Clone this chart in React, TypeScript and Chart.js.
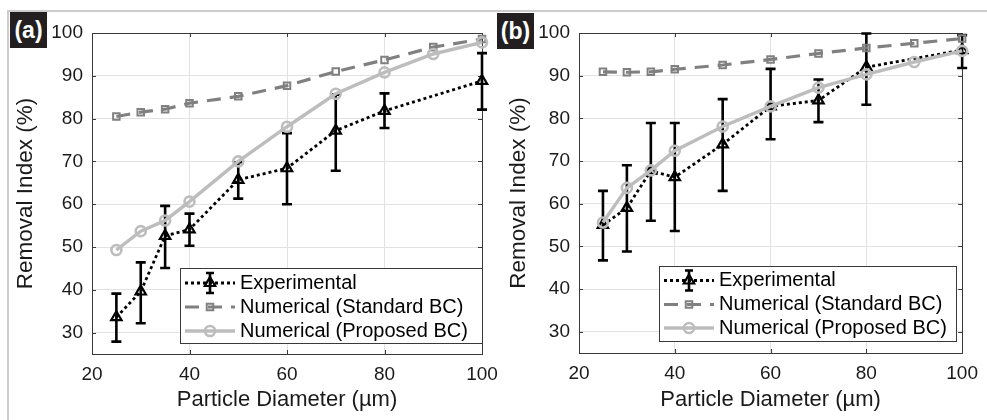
import React, { useEffect, useRef } from 'react';
import { Chart, registerables } from 'chart.js';

Chart.register(...registerables);

// ---------- data ----------
const diameters = [25, 30, 35, 40, 50, 60, 70, 80, 90, 100];
const expDiameters = [25, 30, 35, 40, 50, 60, 70, 80, 100];
const xTickValues = [20, 40, 60, 80, 100];
const yTickValues = [30, 40, 50, 60, 70, 80, 90, 100];
const seriesLabels = ['Experimental', 'Numerical (Standard BC)', 'Numerical (Proposed BC)'];
const xTitle = 'Particle Diameter (µm)';
const yTitle = 'Removal Index (%)';

// Panel (a)
const expMeanA = [33.6, 39.6, 52.6, 54.1, 65.7, 68.4, 77.2, 81.8, 88.8];
const expLowA = [27.9, 32.2, 45.1, 50.3, 61.3, 60.0, 67.8, 77.8, 82.1];
const expHighA = [39.1, 46.4, 59.6, 57.8, 69.8, 76.6, 85.6, 85.9, 95.3];
const standardA = [80.5, 81.5, 82.2, 83.6, 85.2, 87.7, 91.0, 93.7, 96.7, 98.6];
const proposedA = [49.3, 53.7, 56.2, 60.6, 70.0, 78.1, 85.8, 90.8, 95.1, 97.8];

// Panel (b)
const expMeanB = [55.0, 59.0, 67.7, 66.2, 73.9, 82.8, 84.2, 92.0, 96.0];
const expLowB = [46.7, 48.8, 56.0, 53.6, 63.0, 75.1, 79.1, 83.2, 91.8];
const expHighB = [63.0, 69.0, 78.9, 78.9, 84.5, 91.6, 89.1, 99.9, 99.5];
const standardB = [90.9, 90.8, 90.9, 91.5, 92.5, 93.8, 95.2, 96.5, 97.6, 98.7];
const proposedB = [55.6, 63.7, 67.8, 72.4, 78.1, 82.8, 87.2, 90.3, 93.2, 95.8];

// ---------- styles ----------
const FONT = "'Liberation Sans', Arial, Helvetica, sans-serif";
const TEXT = '#1a1a1a';
const GRID = '#e2e2e2';
const AXIS = '#3a3a3a';
const EXP_COLOR = '#000000';
const STD_COLOR = '#808080';
const PROP_COLOR = '#bdbdbd';

type Panel = {
  exp: number[];
  low: number[];
  high: number[];
  std: number[];
  prop: number[];
  yAxisWidth: number;
  xAxisHeight: number;
  padRight: number;
  padTop: number;
  yTitlePad: number;
  legend: { right: number; bottom: number; w: number; h: number; rows: number[] };
};

function drawMarker(ctx: CanvasRenderingContext2D, style: string, x: number, y: number, r: number) {
  ctx.beginPath();
  if (style === 'triangle') {
    for (let k = 0; k < 3; k++) {
      const a = (k * 2 * Math.PI) / 3;
      const px = x + Math.sin(a) * r;
      const py = y - Math.cos(a) * r;
      if (k === 0) ctx.moveTo(px, py);
      else ctx.lineTo(px, py);
    }
    ctx.closePath();
  } else if (style === 'rect') {
    const s = Math.SQRT1_2 * r;
    ctx.rect(x - s, y - s, 2 * s, 2 * s);
  } else {
    ctx.arc(x, y, r, 0, Math.PI * 2);
  }
  ctx.stroke();
}

function makeDecor(p: Panel) {
  return {
    id: 'panelDecor',
    beforeDatasetsDraw(chart: any) {
      const { ctx, chartArea: a } = chart;
      const x = chart.scales.x;
      const y = chart.scales.y;
      ctx.save();
      // axes box + inward ticks
      ctx.strokeStyle = AXIS;
      ctx.lineWidth = 1;
      ctx.setLineDash([]);
      ctx.beginPath();
      for (const v of xTickValues) {
        const px = Math.round(x.getPixelForValue(v)) + 0.5;
        ctx.moveTo(px, a.bottom);
        ctx.lineTo(px, a.bottom - 4);
        ctx.moveTo(px, a.top);
        ctx.lineTo(px, a.top + 4);
      }
      for (const v of yTickValues) {
        const py = Math.round(y.getPixelForValue(v)) + 0.5;
        ctx.moveTo(a.left, py);
        ctx.lineTo(a.left + 4, py);
        ctx.moveTo(a.right, py);
        ctx.lineTo(a.right - 4, py);
      }
      ctx.stroke();
      ctx.strokeRect(Math.round(a.left) + 0.5, Math.round(a.top) + 0.5, Math.round(a.right - a.left), Math.round(a.bottom - a.top));
      // error bars
      ctx.strokeStyle = EXP_COLOR;
      ctx.lineWidth = 2.6;
      ctx.beginPath();
      expDiameters.forEach((d, i) => {
        const px = x.getPixelForValue(d);
        const lo = y.getPixelForValue(p.low[i]);
        const hi = y.getPixelForValue(p.high[i]);
        ctx.moveTo(px, lo);
        ctx.lineTo(px, hi);
        ctx.moveTo(px - 5, lo);
        ctx.lineTo(px + 5, lo);
        ctx.moveTo(px - 5, hi);
        ctx.lineTo(px + 5, hi);
      });
      ctx.stroke();
      ctx.restore();
    },
    afterDraw(chart: any) {
      const { ctx, chartArea: a } = chart;
      const lg = p.legend;
      const bx = Math.round(a.right - lg.right - lg.w);
      const by = Math.round(a.bottom - lg.bottom - lg.h);
      ctx.save();
      ctx.fillStyle = '#ffffff';
      ctx.fillRect(bx, by, lg.w, lg.h);
      ctx.strokeStyle = AXIS;
      ctx.lineWidth = 1;
      ctx.setLineDash([]);
      ctx.strokeRect(bx + 0.5, by + 0.5, lg.w, lg.h);
      const ds = chart.data.datasets;
      ds.forEach((d: any, i: number) => {
        const cy = by + lg.rows[i];
        const x0 = bx + 5;
        const x1 = bx + 55;
        const mx = bx + 30;
        ctx.strokeStyle = d.borderColor;
        ctx.lineWidth = d.borderWidth;
        ctx.setLineDash(d.borderDash || []);
        ctx.beginPath();
        ctx.moveTo(x0, cy);
        ctx.lineTo(x1, cy);
        ctx.stroke();
        ctx.setLineDash([]);
        if (d.pointStyle === 'triangle') {
          ctx.lineWidth = 2.6;
          ctx.beginPath();
          ctx.moveTo(mx, cy - 10);
          ctx.lineTo(mx, cy + 10);
          ctx.moveTo(mx - 4, cy - 10);
          ctx.lineTo(mx + 4, cy - 10);
          ctx.moveTo(mx - 4, cy + 10);
          ctx.lineTo(mx + 4, cy + 10);
          ctx.stroke();
        }
        ctx.strokeStyle = d.pointBorderColor;
        ctx.lineWidth = d.pointBorderWidth;
        drawMarker(ctx, d.pointStyle, mx, cy, d.pointRadius);
        ctx.fillStyle = '#000';
        ctx.font = `20px ${FONT}`;
        ctx.textBaseline = 'middle';
        ctx.textAlign = 'left';
        ctx.fillText(d.label, bx + 60, cy);
      });
      ctx.restore();
    },
  };
}

function makeConfig(p: Panel): any {
  const pts = (xs: number[], ys: number[]) => xs.map((x, i) => ({ x, y: ys[i] }));
  return {
    type: 'line',
    data: {
      datasets: [
        {
          label: seriesLabels[0],
          data: pts(expDiameters, p.exp),
          borderColor: EXP_COLOR,
          borderWidth: 2.8,
          borderDash: [3, 3],
          pointStyle: 'triangle',
          pointRadius: 6,
          pointBorderWidth: 2.2,
          pointBorderColor: EXP_COLOR,
          pointBackgroundColor: 'rgba(0,0,0,0)',
          order: 2,
          clip: false,
          tension: 0,
        },
        {
          label: seriesLabels[1],
          data: pts(diameters, p.std),
          borderColor: STD_COLOR,
          borderWidth: 3.2,
          borderDash: [14, 9],
          pointStyle: 'rect',
          pointRadius: 4.6,
          pointBorderWidth: 2,
          pointBorderColor: STD_COLOR,
          pointBackgroundColor: 'rgba(0,0,0,0)',
          order: 1,
          clip: false,
          tension: 0,
        },
        {
          label: seriesLabels[2],
          data: pts(diameters, p.prop),
          borderColor: PROP_COLOR,
          borderWidth: 3.4,
          pointStyle: 'circle',
          pointRadius: 5,
          pointBorderWidth: 2.6,
          pointBorderColor: PROP_COLOR,
          pointBackgroundColor: 'rgba(0,0,0,0)',
          order: 0,
          clip: false,
          tension: 0,
        },
      ],
    },
    options: {
      animation: false,
      responsive: false,
      maintainAspectRatio: false,
      events: [],
      layout: { padding: { left: 0, top: p.padTop, right: p.padRight, bottom: 0 } },
      plugins: { legend: { display: false }, tooltip: { enabled: false } },
      scales: {
        x: {
          type: 'linear',
          min: 20,
          max: 100,
          afterBuildTicks: (s: any) => {
            s.ticks = xTickValues.map((v) => ({ value: v }));
          },
          afterFit: (s: any) => {
            s.height = p.xAxisHeight;
          },
          grid: { color: GRID, lineWidth: 1, drawTicks: false },
          border: { display: false },
          ticks: { color: TEXT, font: { family: FONT, size: 19 }, padding: 9, maxRotation: 0, autoSkip: false },
          title: {
            display: true,
            text: xTitle,
            color: TEXT,
            font: { family: FONT, size: 22 },
            padding: { top: 0, bottom: 7 },
          },
        },
        y: {
          type: 'linear',
          min: 25,
          max: 100,
          afterBuildTicks: (s: any) => {
            s.ticks = yTickValues.map((v) => ({ value: v }));
          },
          afterFit: (s: any) => {
            s.width = p.yAxisWidth;
          },
          grid: { color: GRID, lineWidth: 1, drawTicks: false },
          border: { display: false },
          ticks: { color: TEXT, font: { family: FONT, size: 19 }, padding: 9, autoSkip: false },
          title: {
            display: true,
            text: yTitle,
            color: TEXT,
            font: { family: FONT, size: 22.5 },
            padding: { top: p.yTitlePad, bottom: 0 },
          },
        },
      },
    },
    plugins: [makeDecor(p)],
  };
}

const panelA: Panel = {
  exp: expMeanA,
  low: expLowA,
  high: expHighA,
  std: standardA,
  prop: proposedA,
  yAxisWidth: 92,
  xAxisHeight: 66,
  padRight: 28,
  padTop: 33,
  yTitlePad: 12,
  legend: { right: 0, bottom: 11, w: 302, h: 75, rows: [15, 39, 63] },
};

const panelB: Panel = {
  exp: expMeanB,
  low: expLowB,
  high: expHighB,
  std: standardB,
  prop: proposedB,
  yAxisWidth: 89,
  xAxisHeight: 67,
  padRight: 17,
  padTop: 33,
  yTitlePad: 15,
  legend: { right: 6, bottom: 12, w: 297, h: 75, rows: [14.5, 38.5, 62] },
};

function PanelChart({ panel, left, width }: { panel: Panel; left: number; width: number }) {
  const ref = useRef<HTMLCanvasElement | null>(null);
  useEffect(() => {
    if (!ref.current) return;
    const chart = new Chart(ref.current, makeConfig(panel));
    return () => chart.destroy();
  }, [panel]);
  return (
    <canvas
      ref={ref}
      width={width}
      height={420}
      style={{ position: 'absolute', left, top: 0, width, height: 420 }}
    />
  );
}

const labelBox = (left: number, top: number, text: string) => (
  <div
    style={{
      position: 'absolute',
      left,
      top,
      width: 37,
      height: 36,
      background: '#231f20',
      color: '#ffffff',
      fontFamily: FONT,
      fontWeight: 'bold',
      fontSize: 23,
      display: 'flex',
      alignItems: 'center',
      justifyContent: 'center',
      lineHeight: 1,
    }}
  >
    {text}
  </div>
);

export default function App() {
  return (
    <div
      style={{
        position: 'absolute',
        left: 0,
        top: 0,
        width: 987,
        height: 420,
        background: '#ffffff',
        overflow: 'hidden',
      }}
    >
      <div style={{ position: 'absolute', left: 8, top: 10, width: 979, height: 2, background: '#cccccc' }} />
      <div style={{ position: 'absolute', left: 7, top: 10, width: 2, height: 410, background: '#cccccc' }} />
      <PanelChart panel={panelA} left={0} width={510} />
      <PanelChart panel={panelB} left={490} width={497} />
      {labelBox(10, 12, '(a)')}
      {labelBox(497, 13, '(b)')}
    </div>
  );
}
